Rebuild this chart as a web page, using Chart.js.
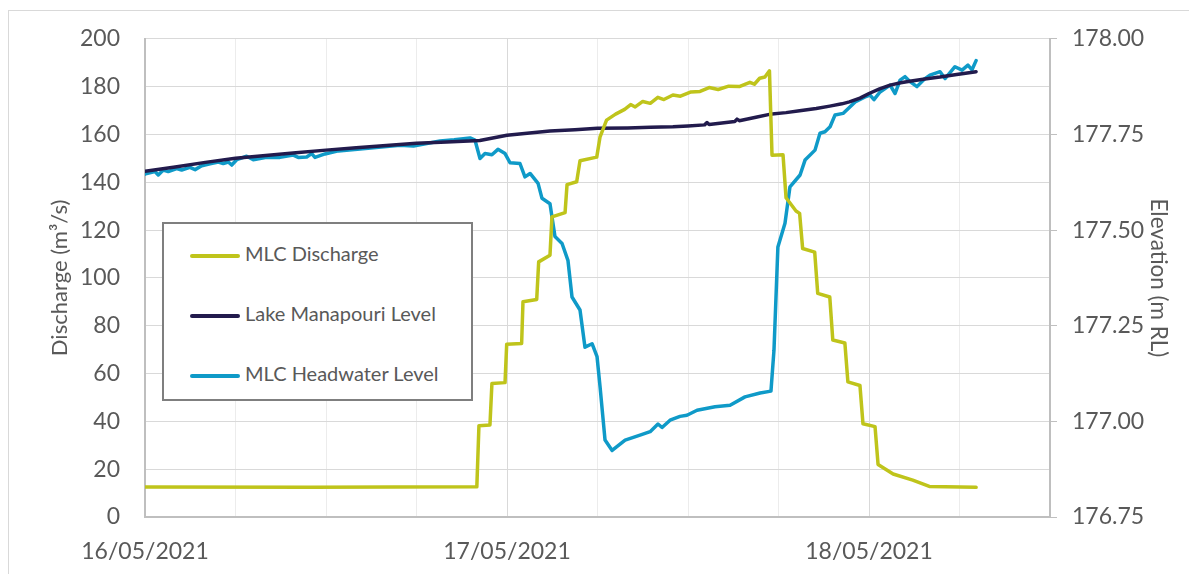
<!DOCTYPE html>
<html>
<head>
<meta charset="utf-8">
<script src="https://cdn.jsdelivr.net/npm/chart.js@4.4.1/dist/chart.umd.min.js"></script>
<style>
  html, body { margin: 0; padding: 0; background: #fff; overflow: hidden; }
  #wrap { position: relative; width: 1189px; height: 574px; }
  #frame { position: absolute; left: 8px; top: 10px; width: 1300px; height: 700px; border: 1px solid #d9d9d9; }
  canvas { position: absolute; left: 0; top: 0; }
  #legend {
    position: absolute; left: 162px; top: 222px; width: 307px; height: 175px;
    border: 2px solid #7f7f7f; background: #fff;
    font-family: Lato, "Open Sans", sans-serif; font-size: 20px; color: #595959;
  }
  #legend .item { position: absolute; left: 26px; height: 24px; line-height: 24px; white-space: nowrap; }
  #legend .swatch { display: inline-block; width: 50px; height: 4px; border-radius: 2px; vertical-align: middle; margin-right: 5px; }
</style>
</head>
<body>
<div id="wrap">
  <div id="frame"></div>
  <canvas id="chart" width="1189" height="574"></canvas>
  <div id="legend"></div>
</div>
<script>
// hours since 16/05/2021 00:00
const dateLabels = ["16/05/2021", "17/05/2021", "18/05/2021"];

const dischargeHours = [0, 11, 22.0, 22.14, 22.87, 23.0, 23.87, 23.98, 24.97, 25.06, 25.97, 26.1, 26.85, 26.98, 27.85, 27.98, 28.62, 28.84, 29.95, 30.17, 30.6, 31.2, 31.8, 32.2, 32.5, 33.0, 33.5, 34.0, 34.4, 35.0, 35.5, 36.2, 36.8, 37.4, 38.0, 38.7, 39.4, 40.1, 40.4, 40.75, 41.1, 41.4, 41.57, 42.3, 42.5, 43.16, 43.4, 43.6, 44.4, 44.6, 45.4, 45.6, 46.4, 46.6, 47.4, 47.6, 48.4, 48.6, 49.6, 50.9, 52.0, 55.1];
const dischargeValues = [12.5, 12.4, 12.6, 38.2, 38.5, 55.8, 56.2, 72.3, 72.6, 90.0, 91.0, 106.7, 109.5, 125.5, 127.3, 139.0, 140.2, 149.0, 150.5, 159.0, 166.0, 168.5, 170.5, 172.5, 171.5, 173.8, 173.0, 175.5, 174.6, 176.5, 176.0, 177.8, 178.0, 179.6, 178.8, 180.2, 180.0, 181.8, 181.0, 183.5, 184.0, 186.6, 151.3, 151.5, 133.5, 128.0, 127.0, 112.3, 110.8, 93.5, 92.0, 74.0, 72.8, 56.5, 55.0, 39.0, 37.8, 22.0, 18.0, 15.4, 12.8, 12.4];

const lakeHours = [0, 2, 4, 6, 8, 10, 12, 14, 16, 18, 20, 22.2, 24, 25.5, 26.85, 28.5, 30, 32, 33.5, 35, 36, 37.1, 37.26, 37.4, 39.1, 39.25, 39.4, 40.5, 41.4, 42.5, 43.4, 44.5, 45.4, 46.2, 46.7, 47.4, 48, 48.7, 49.4, 50.1, 50.7, 51.7, 52.7, 53.7, 55.1];
const lakeValues = [177.654, 177.665, 177.677, 177.6875, 177.695, 177.702, 177.709, 177.715, 177.721, 177.727, 177.730, 177.734, 177.748, 177.754, 177.759, 177.762, 177.766, 177.767, 177.769, 177.770, 177.772, 177.775, 177.781, 177.776, 177.784, 177.790, 177.786, 177.795, 177.8025, 177.807, 177.812, 177.818, 177.824, 177.830, 177.835, 177.845, 177.857, 177.869, 177.879, 177.885, 177.889, 177.895, 177.900, 177.906, 177.914];

const headHours = [0, 0.11, 0.66, 0.88, 1.21, 1.54, 2.10, 2.43, 2.98, 3.32, 3.76, 4.31, 4.86, 5.19, 5.52, 5.75, 6.08, 6.74, 7.18, 8.07, 8.95, 9.83, 10.16, 10.72, 11.05, 11.27, 11.93, 12.82, 14.26, 16.91, 17.8, 19.56, 20.5, 21.55, 21.88, 22.21, 22.54, 23.0, 23.40, 23.87, 24.20, 24.86, 25.19, 25.53, 26.06, 26.32, 26.85, 27.18, 27.65, 28.04, 28.31, 28.84, 29.17, 29.64, 29.97, 30.17, 30.50, 30.97, 31.83, 32.82, 33.49, 34.01, 34.28, 34.81, 35.47, 35.93, 36.60, 37.79, 38.79, 39.78, 40.78, 41.50, 41.70, 41.96, 42.43, 42.76, 43.43, 43.76, 44.42, 44.75, 45.08, 45.42, 45.75, 46.28, 47.08, 47.74, 48.07, 48.33, 48.73, 49.40, 49.73, 50.06, 50.39, 50.72, 51.18, 51.71, 52.04, 52.71, 53.04, 53.70, 54.17, 54.56, 54.83, 55.10];
const headValues = [177.646, 177.648, 177.653, 177.644, 177.657, 177.653, 177.661, 177.657, 177.664, 177.658, 177.668, 177.673, 177.678, 177.674, 177.678, 177.670, 177.684, 177.693, 177.684, 177.690, 177.690, 177.696, 177.690, 177.691, 177.700, 177.690, 177.699, 177.707, 177.712, 177.722, 177.720, 177.733, 177.736, 177.741, 177.735, 177.687, 177.700, 177.697, 177.711, 177.700, 177.676, 177.674, 177.639, 177.648, 177.622, 177.583, 177.569, 177.483, 177.465, 177.421, 177.325, 177.291, 177.194, 177.203, 177.169, 177.090, 176.951, 176.924, 176.951, 176.964, 176.973, 176.993, 176.984, 177.003, 177.013, 177.016, 177.029, 177.038, 177.042, 177.064, 177.074, 177.079, 177.186, 177.456, 177.518, 177.613, 177.644, 177.683, 177.709, 177.753, 177.757, 177.770, 177.801, 177.805, 177.835, 177.848, 177.853, 177.841, 177.861, 177.879, 177.857, 177.892, 177.901, 177.888, 177.875, 177.896, 177.905, 177.914, 177.896, 177.927, 177.918, 177.931, 177.919, 177.943];

const TEXT = "#595959";
const FONT = "Lato";

function points(hours, values) {
  return hours.map((h, i) => ({ x: h, y: values[i] }));
}

function renderLegend(chart) {
  const box = document.getElementById("legend");
  box.innerHTML = chart.data.datasets
    .map((ds, i) => `<div class="item" style="top:${17 + i * 60}px"><span class="swatch" style="background:${ds.borderColor}"></span>${ds.label}</div>`)
    .join("");
}

const chart = new Chart(document.getElementById("chart"), {
  type: "line",
  data: {
    datasets: [
      { label: "MLC Discharge", data: points(dischargeHours, dischargeValues), yAxisID: "y", borderColor: "#bfc41b", borderWidth: 3.5 },
      { label: "Lake Manapouri Level", data: points(lakeHours, lakeValues), yAxisID: "y2", borderColor: "#221b4d", borderWidth: 3.5 },
      { label: "MLC Headwater Level", data: points(headHours, headValues), yAxisID: "y2", borderColor: "#0f9ac8", borderWidth: 3.5 },
    ],
  },
  options: {
    responsive: false,
    animation: false,
    layout: { padding: { top: 38, left: 0, right: 0, bottom: 0 } },
    elements: { point: { radius: 0 }, line: { tension: 0, borderJoinStyle: "round", borderCapStyle: "round" } },
    plugins: { legend: { display: false }, tooltip: { enabled: false } },
    scales: {
      x: {
        type: "linear", min: 0, max: 60,
        afterFit: (s) => { s.height = 57; },
        border: { color: "#bfbfbf", width: 2 },
        grid: { drawTicks: false, color: (c) => (c.tick && c.tick.value % 24 === 0 ? "#d9d9d9" : "#ececec") },
        ticks: {
          stepSize: 6, autoSkip: false, maxRotation: 0, padding: 21, color: TEXT, font: { family: FONT, size: 23 },
          callback: (v) => (v % 24 === 0 ? dateLabels[v / 24] : ""),
        },
      },
      y: {
        position: "left", min: 0, max: 200,
        afterFit: (s) => { s.width = 145; },
        border: { color: "#bfbfbf", width: 2 },
        grid: { drawTicks: false, color: "#d9d9d9" },
        ticks: { stepSize: 20, padding: 25, color: TEXT, font: { family: FONT, size: 23 } },
        title: { display: true, text: "Discharge (m³/s)", color: TEXT, font: { family: FONT, size: 22 }, padding: { top: 47, bottom: 0 } },
      },
      y2: {
        position: "right", min: 176.75, max: 178,
        afterFit: (s) => { s.width = 139; },
        border: { color: "#bfbfbf", width: 2 },
        grid: { drawOnChartArea: false, tickLength: 7, color: "#bfbfbf" },
        ticks: { stepSize: 0.25, padding: 15, color: TEXT, font: { family: FONT, size: 23 }, callback: (v) => v.toFixed(2) },
        title: { display: true, text: "Elevation (m RL)", color: TEXT, font: { family: FONT, size: 22.5 }, padding: { top: 17, bottom: 0 } },
      },
    },
  },
});

renderLegend(chart);
</script>
</body>
</html>
